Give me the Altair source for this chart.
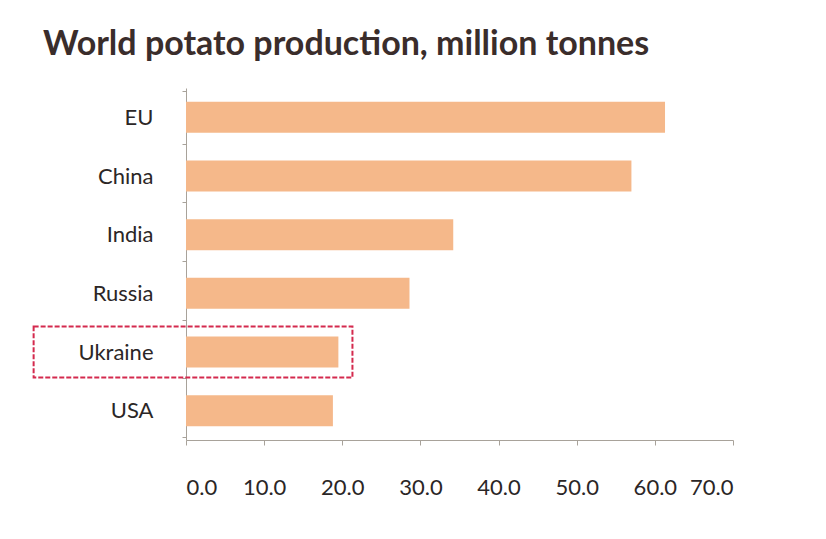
import altair as alt
import pandas as pd

countries = ["EU", "China", "India", "Russia", "Ukraine", "USA"]
production = [61.3, 57.0, 34.2, 28.6, 19.5, 18.8]

highlight_country = ["Ukraine"]
highlight_start = [-19.5]
highlight_end = [21.3]

df = pd.DataFrame({"country": countries, "value": production})
hl = pd.DataFrame({"country": highlight_country, "start": highlight_start, "end": highlight_end})

font = "Lato"
axis_col = "#a8a29a"

ysort = countries

bars = alt.Chart(df).mark_bar(color="#F5B88A", height=31).encode(
    x=alt.X("value:Q", scale=alt.Scale(domain=[0, 70], nice=False),
            axis=alt.Axis(values=[0, 10, 20, 30, 40, 50, 60, 70], format=".1f",
                          title=None, grid=False, domainColor=axis_col, tickColor=axis_col,
                          tickSize=5, labelPadding=32, labelFont=font, labelFontSize=22,
                          labelColor="#2b2626")),
    y=alt.Y("country:N", sort=ysort,
            axis=alt.Axis(title=None, grid=False, domainColor=axis_col, tickColor=axis_col,
                          tickSize=4, tickBand="extent", labelPadding=29, labelFont=font,
                          labelFontSize=22, labelColor="#2b2626")),
)

box = alt.Chart(hl).mark_bar(filled=False, stroke="#d42a4e", strokeWidth=2,
                             strokeDash=[5, 2], height=51, clip=False).encode(
    x="start:Q", x2="end:Q",
    y=alt.Y("country:N", sort=ysort),
)

chart = alt.layer(bars, box).properties(
    width=547, height=352,
    padding={"left": 178, "top": 80, "right": 10, "bottom": 90},
    autosize=alt.AutoSizeParams(type="none"),
    title=alt.TitleParams("World potato production, million tonnes", anchor="start",
                          frame="group", dx=-143, offset=15, font=font, fontSize=34,
                          fontWeight="bold", color="#3a2d2b"),
).configure_view(stroke=None)

chart.save("out.html", embed_options={"renderer": "svg", "actions": False})
